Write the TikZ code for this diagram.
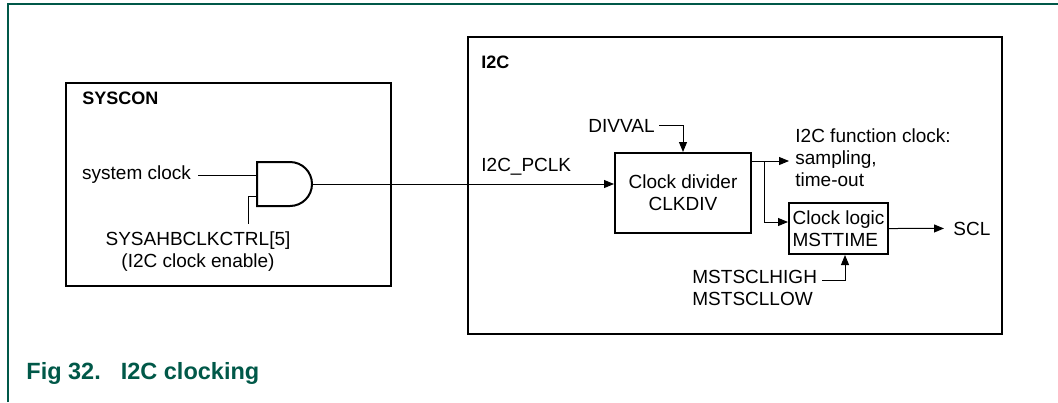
\documentclass[tikz,border=0pt]{standalone}
\usepackage{fontspec}
\setmainfont{Liberation Sans}
\usetikzlibrary{arrows.meta}
\definecolor{figgreen}{RGB}{0,88,72}

\begin{document}
\begin{tikzpicture}[x=0.5pt,y=-0.5pt,
    font=\fontsize{9.5}{11}\selectfont,
    box/.style={draw,line width=1pt},
    sig/.style={line width=.5pt},
    sigarrow/.style={sig,-{Triangle[length=5pt,width=4pt]}},
    title/.style={font=\fontsize{9}{11}\selectfont\bfseries,inner sep=0pt}]
  \useasboundingbox (0,0) rectangle (1058,402);
  \draw[figgreen,line width=.7pt] (8,402) -- (8,4) -- (1058,4);

  % SYSCON block
  \draw[box] (66,83) rectangle (391,286);
  \node[title,anchor=base west] (sysconlbl) at (82,104) {SYSCON};
  \node[anchor=base east] (sysclk) at (198,179) {system clock};
  \node[anchor=north,inner sep=0pt,align=center] (sysahb) at (198,231.5)
    {SYSAHBCLKCTRL[5]\\(I2C clock enable)};
  \draw[line width=1pt] (257,162) -- (290,162) arc[start angle=90,end angle=-90,radius=11pt]
    -- (257,206) -- cycle;
  \coordinate (andin1) at (257,175);
  \coordinate (andin2) at (257,196);
  \coordinate (andout) at (312,184);
  \coordinate (enbl) at (248,224);
  \draw[sig] (sysclk.east |- andin1) -- (andin1);
  \draw[sig] (andin2) -| (enbl);

  % I2C block
  \draw[box] (468,37) rectangle (1002,334);
  \node[title,anchor=base west] (i2clbl) at (481,68.5) {I2C};
  \node[anchor=base west,inner sep=0pt] (pclk) at (481,171) {I2C\_PCLK};
  \node[box,minimum width=68pt,minimum height=40pt,align=center] (clkdiv) at (683,193)
    {Clock divider\\CLKDIV};
  \node[box,minimum width=49.5pt,minimum height=25.5pt,inner sep=0pt,align=left] (clklogic)
    at (838.5,228.5) {Clock logic\\MSTTIME};
  \node[anchor=base east,inner sep=2pt] (divval) at (659,132) {DIVVAL};
  \node[anchor=north west,inner xsep=3pt,inner ysep=0pt,align=left] (fclk) at (789,128)
    {I2C function clock:\\sampling,\\time-out};
  \node[anchor=base west,inner sep=4.5pt] (scl) at (944,235) {SCL};
  \node[anchor=north west,inner sep=0pt,align=left] (mstscl) at (692,269.5)
    {MSTSCLHIGH\\MSTSCLLOW};
  \coordinate (fork) at (764,161);
  \coordinate (mstin) at (822,280);

  \draw[sigarrow] (andout) -- (clkdiv.west |- andout);
  \draw[sigarrow] (divval.east) -| (clkdiv.north);
  \draw[sigarrow] (clkdiv.east |- fork) -- (fclk.west |- fork);
  \draw[sigarrow] (fork) |- ([yshift=3.25pt]clklogic.west);
  \draw[sigarrow] (clklogic.east) -- (scl.west);
  \draw[sigarrow] (mstin) -| ([xshift=3.25pt]clklogic.south);

  \node[anchor=base west,inner sep=0pt,text=figgreen,font=\fontsize{11.75}{14}\selectfont\bfseries]
    (caption) at (26,379) {Fig 32.\hspace{10pt}I2C clocking};
\end{tikzpicture}
\end{document}
